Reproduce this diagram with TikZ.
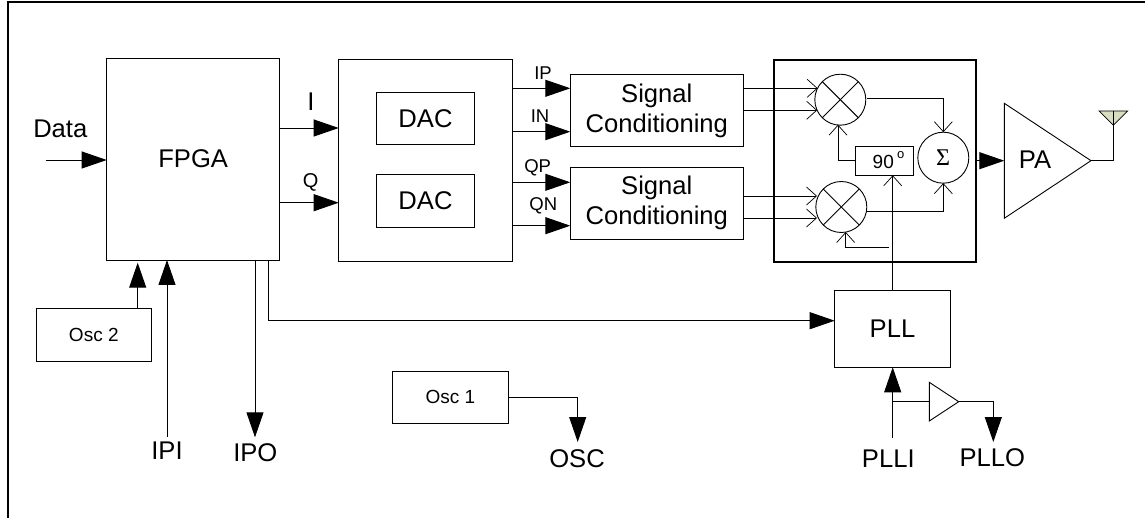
\documentclass[tikz,border=0pt]{standalone}
\usepackage{fontspec}
\setmainfont{Liberation Sans}
\newfontfamily\serifsym{Liberation Serif}
\usetikzlibrary{arrows.meta,calc}
\tikzset{
  ln/.style={draw=black,line width=0.9pt},
  box/.style={ln,rectangle,inner sep=0pt,outer sep=0pt,align=center},
  ring/.style={ln,circle,inner sep=0pt,outer sep=0pt,minimum size=51pt},
  lbl/.style={inner sep=0pt,outer sep=0pt,anchor=base},
  big/.style={font=\fontsize{25.6}{30}\selectfont},
  mid/.style={font=\fontsize{19}{23}\selectfont},
  small/.style={font=\fontsize{18.5}{22}\selectfont},
  arr/.style={ln,-{Triangle[length=25pt,width=17pt,fill=black]}},
  barb/.style={ln,-{Straight Barb[length=10pt,width=18pt,line width=0.7pt]}},
}
\begin{document}
\begin{tikzpicture}[x=1pt,y=-1pt]
\useasboundingbox (0,0) rectangle (1145,518);
% frame
\coordinate (frameA) at (8,518);
\coordinate (frameB) at (8,2);
\coordinate (frameC) at (1145,2);
\draw[ln,line width=1.2pt] (frameA) -- (frameB) -- (frameC);
% boxes
\node[box,big,minimum width=173pt,minimum height=202pt] (fpga) at (193.2,159) {FPGA};
\node[box,minimum width=173.6pt,minimum height=201.6pt] (dacs) at (425.5,160.5) {};
\node[box,big,minimum width=97.6pt,minimum height=52.7pt] (dac1) at (425.5,118.6) {DAC};
\node[box,big,minimum width=97.6pt,minimum height=53pt] (dac2) at (425.5,200.8) {DAC};
\node[box,big,minimum width=173pt,minimum height=72pt] (sc1) at (656.8,110.7) {Signal\\Conditioning};
\node[box,big,minimum width=173pt,minimum height=72pt] (sc2) at (656.8,203.3) {Signal\\Conditioning};
\node[box,line width=2.2pt,minimum width=202pt,minimum height=201.7pt] (iq) at (874.7,160.8) {};
\node[box,big,minimum width=115.6pt,minimum height=77pt] (pll) at (892.5,328.8) {PLL};
\node[box,mid,minimum width=115.7pt,minimum height=52.7pt] (osc2) at (93.8,335.3) {Osc 2};
\node[box,mid,minimum width=115.6pt,minimum height=52.7pt] (osc1) at (450.5,397.3) {Osc 1};
\node[box,minimum width=58.4pt,minimum height=29pt] (phase) at (884.5,160.8) {};
\node[lbl,mid] (ninety) at (883.3,168.3) {90};
\node[lbl,font=\fontsize{13}{15}\selectfont] (deg) at (900.7,158.3) {o};
% mixers and summer
\node[ring] (m1) at (840.3,99.7) {};
\node[ring] (m2) at (841.3,207) {};
\node[ring] (sum) at (943.3,157.7) {};
\node[lbl,font=\fontsize{24}{28}\serifsym] (sigma) at (943,166) {Σ};
\foreach \m in {m1,m2}{
  \draw[ln] (\m.45) -- (\m.225);
  \draw[ln] (\m.135) -- (\m.315);
}
% amplifier triangles
\coordinate (paA) at (1004.3,103.3);
\coordinate (paB) at (1004.3,218.3);
\coordinate (paT) at (1091,160.7);
\draw[ln] (paA) -- (paT) -- (paB) -- cycle;
\node[lbl,big] (patext) at (1035,169) {PA};
\coordinate (bufA) at (929.3,382.3);
\coordinate (bufB) at (929.3,421);
\coordinate (bufT) at (958.7,401.7);
\draw[ln] (bufA) -- (bufT) -- (bufB) -- cycle;
% antenna
\coordinate (antA) at (1099,111);
\coordinate (antB) at (1127.7,111);
\coordinate (antT) at (1113.3,125.3);
\coordinate (antM) at (1113.3,111);
\draw[ln,line width=0.7pt,fill={rgb,255:red,216;green,220;blue,192}] (antA) -- (antB) -- (antT) -- cycle;
\draw[ln] (antM) -- (antT) |- (paT);
% text labels
\node[lbl,big] (tdata) at (60.3,137.7) {Data};
\node[lbl,big] (ti) at (311,110.7) {I};
\node[lbl,mid,font=\fontsize{20}{24}\selectfont] (tq) at (310.7,187.7) {Q};
\node[lbl,small] (tip) at (543,80) {IP};
\node[lbl,small] (tin) at (540,122.7) {IN};
\node[lbl,small] (tqp) at (537.7,172.7) {QP};
\node[lbl,small] (tqn) at (543.3,211) {QN};
\node[lbl,big] (tipi) at (167,459.3) {IPI};
\node[lbl,big] (tipo) at (255.3,461.7) {IPO};
\node[lbl,big] (tosc) at (577,467.7) {OSC};
\node[lbl,big] (tplli) at (888.3,467.3) {PLLI};
\node[lbl,big] (tpllo) at (992.3,466.7) {PLLO};
% free ends
\coordinate (dataS) at (46,160);
\coordinate (ipiS) at (167,436.7);
\coordinate (ipoE) at (255,437.3);
\coordinate (oscE) at (577.7,442);
\coordinate (plliS) at (892.7,437.7);
\coordinate (plloE) at (993.3,442);
\coordinate (m2fb) at (889,247.3);
% filled arrows
\draw[arr] (dataS) -- (fpga.west |- dataS);
\draw[arr] (fpga.east |- 0,128) -- (dacs.west |- 0,128);
\draw[arr] (fpga.east |- 0,202.7) -- (dacs.west |- 0,202.7);
\draw[arr] (dacs.east |- 0,88.3) -- (sc1.west |- 0,88.3);
\draw[arr] (dacs.east |- 0,131.7) -- (sc1.west |- 0,131.7);
\draw[arr] (dacs.east |- 0,182.3) -- (sc2.west |- 0,182.3);
\draw[arr] (dacs.east |- 0,225.7) -- (sc2.west |- 0,225.7);
\draw[arr] (osc2.north -| 137.7,0) -- (137.7,262.7);
\draw[arr] (ipiS) -- (ipiS |- fpga.south);
\draw[arr] (ipoE |- fpga.south) -- (ipoE);
\draw[arr] (268.3,260) |- (pll.west |- 0,320.7);
\draw[arr] (osc1.east |- 0,397.7) -| (oscE);
\draw[arr] (plliS) -- (plliS |- pll.south);
\draw[arr] (iq.east |- paT) -- (paT -| paA);
\draw[ln] (plliS |- bufT) -- (bufT -| bufA);
\draw[arr] (bufT) -| (plloE);
% open arrows
\draw[barb] (sc1.east |- 0,88.3) -- (817.7,88.3);
\draw[barb] (sc1.east |- 0,110.3) -- (817.2,110.3);
\draw[barb] (sc2.east |- 0,196) -- (817,196);
\draw[barb] (sc2.east |- 0,218) -- (817,218);
\draw[barb] (867.3,98.3) -| (sum.north);
\draw[barb] (867,211) -| (sum.south);
\draw[barb] (phase.west |- 0,160.3) -| (838,124.7);
\draw[barb] (m2fb) -| (845.7,232);
\draw[barb] (pll.north -| 892.7,0) -- (892.7,175.3);
\end{tikzpicture}
\end{document}
